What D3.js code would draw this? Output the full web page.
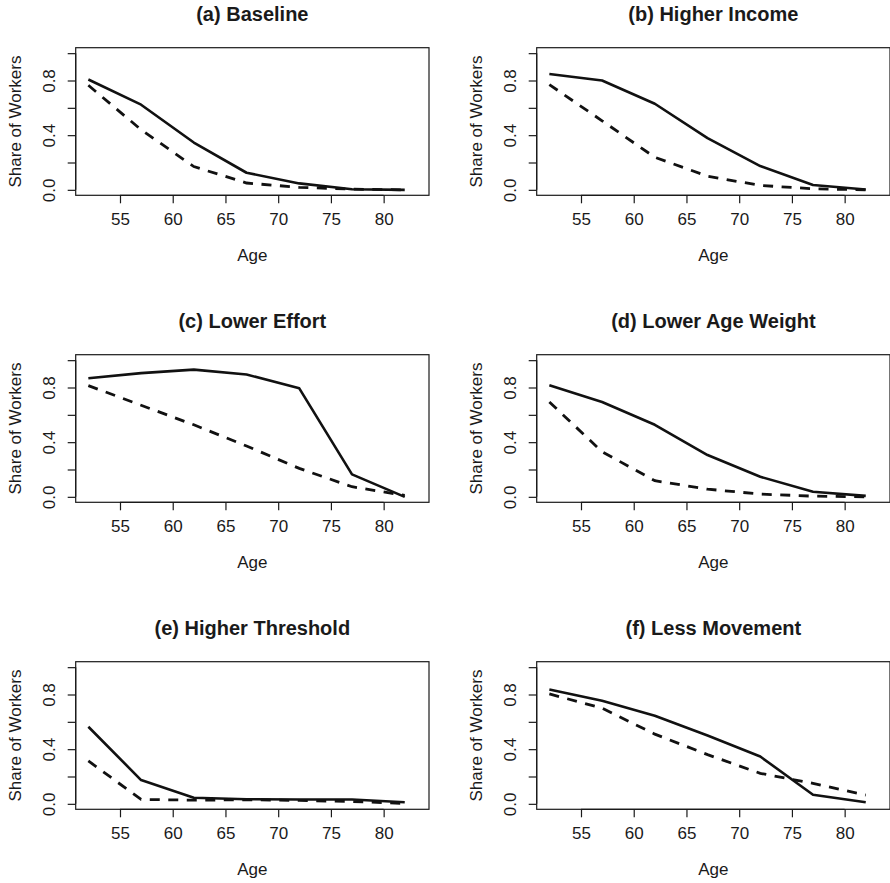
<!DOCTYPE html>
<html>
<head>
<meta charset="utf-8">
<script src="https://cdn.jsdelivr.net/npm/d3@7"></script>
<style>
html,body{margin:0;padding:0;background:#fff;}
svg{display:block;}
text{font-family:"Liberation Sans",Arial,Helvetica,sans-serif;fill:#1a1a1a;}
</style>
</head>
<body>
<svg id="chart" width="890" height="883"></svg>
<script>
const ages = [52, 57, 62, 67, 72, 77, 82];
const titles = ["(a) Baseline", "(b) Higher Income", "(c) Lower Effort",
                "(d) Lower Age Weight", "(e) Higher Threshold", "(f) Less Movement"];
const solidA  = [0.807, 0.623, 0.346, 0.125, 0.047, 0.004, 0.000];
const dashedA = [0.765, 0.440, 0.170, 0.050, 0.018, 0.005, 0.000];
const solidB  = [0.848, 0.800, 0.630, 0.378, 0.174, 0.035, 0.003];
const dashedB = [0.770, 0.505, 0.238, 0.100, 0.032, 0.008, 0.000];
const solidC  = [0.868, 0.905, 0.931, 0.895, 0.794, 0.164, 0.000];
const dashedC = [0.814, 0.670, 0.527, 0.372, 0.208, 0.074, 0.010];
const solidD  = [0.816, 0.694, 0.527, 0.306, 0.147, 0.037, 0.007];
const dashedD = [0.694, 0.330, 0.118, 0.056, 0.020, 0.005, 0.000];
const solidE  = [0.564, 0.174, 0.044, 0.034, 0.032, 0.032, 0.012];
const dashedE = [0.314, 0.032, 0.027, 0.030, 0.025, 0.017, 0.003];
const solidF  = [0.836, 0.755, 0.645, 0.500, 0.346, 0.066, 0.012];
const dashedF = [0.804, 0.700, 0.510, 0.360, 0.223, 0.150, 0.064];
const xTicks = [55, 60, 65, 70, 75, 80];
const yTicks = [0, 0.2, 0.4, 0.6, 0.8, 1.0];
const yTickLabels = ["0.0", "", "0.4", "", "0.8", ""];
const xLabel = "Age";
const yLabel = "Share of Workers";

const solids = [solidA, solidB, solidC, solidD, solidE, solidF];
const dashes = [dashedA, dashedB, dashedC, dashedD, dashedE, dashedF];

const svg = d3.select("#chart");
const colOff = [0, 461];
const rowOff = [0, 307, 614];
const box = {x0: 75.7, x1: 429, y0: 47.7, y1: 195.3};

const x = d3.scaleLinear().domain([50.8, 84.3]).range([box.x0, box.x1]);
const y = d3.scaleLinear().domain([-0.04, 1.04]).range([box.y1, box.y0]);
const line = d3.line().x(d => x(d[0])).y(d => y(d[1]));

titles.forEach((t, i) => {
  const g = svg.append("g")
    .attr("transform", `translate(${colOff[i % 2]},${rowOff[Math.floor(i / 2)]})`);

  // box
  g.append("rect")
    .attr("x", box.x0).attr("y", box.y0)
    .attr("width", box.x1 - box.x0).attr("height", box.y1 - box.y0)
    .attr("fill", "none").attr("stroke", "#1a1a1a").attr("stroke-width", 1.2);

  // x axis
  const xa = g.append("g").attr("transform", `translate(0,${box.y1})`)
    .call(d3.axisBottom(x).tickValues(xTicks).tickSize(8).tickPadding(10).tickSizeOuter(0));
  xa.select(".domain").attr("d", `M${x(xTicks[0])},0H${x(xTicks[xTicks.length - 1])}`)
    .attr("stroke", "#1a1a1a").attr("stroke-width", 1.2);
  xa.selectAll(".tick line").attr("stroke", "#1a1a1a").attr("stroke-width", 1.2);
  xa.selectAll(".tick text").attr("font-size", 17).attr("fill", "#1a1a1a")
    .attr("font-family", '"Liberation Sans",Arial,sans-serif');

  // y axis
  const ya = g.append("g").attr("transform", `translate(${box.x0},0)`)
    .call(d3.axisLeft(y).tickValues(yTicks).tickSize(8).tickSizeOuter(0)
      .tickFormat((d, k) => yTickLabels[k]));
  ya.select(".domain").attr("d", `M0,${y(1)}V${y(0)}`)
    .attr("stroke", "#1a1a1a").attr("stroke-width", 1.2);
  ya.selectAll(".tick line").attr("stroke", "#1a1a1a").attr("stroke-width", 1.2);
  ya.selectAll(".tick text")
    .attr("font-size", 17).attr("fill", "#1a1a1a")
    .attr("font-family", '"Liberation Sans",Arial,sans-serif')
    .attr("x", null).attr("dy", null)
    .attr("text-anchor", "middle")
    .attr("transform", "translate(-20.7,0) rotate(-90)");

  // lines
  g.append("path")
    .datum(ages.map((a, k) => [a, dashes[i][k]]))
    .attr("d", line).attr("fill", "none").attr("stroke", "#111")
    .attr("stroke-width", 2.8).attr("stroke-dasharray", "10,8.5");
  g.append("path")
    .datum(ages.map((a, k) => [a, solids[i][k]]))
    .attr("d", line).attr("fill", "none").attr("stroke", "#111")
    .attr("stroke-width", 2.6).attr("stroke-linejoin", "round");

  // title
  g.append("text").attr("x", (box.x0 + box.x1) / 2).attr("y", 21)
    .attr("text-anchor", "middle").attr("font-size", 20).attr("font-weight", "bold")
    .text(t);
  // x label
  g.append("text").attr("x", (box.x0 + box.x1) / 2).attr("y", 261)
    .attr("text-anchor", "middle").attr("font-size", 17).text(xLabel);
  // y label
  g.append("text")
    .attr("transform", `translate(20.5,${(box.y0 + box.y1) / 2}) rotate(-90)`)
    .attr("text-anchor", "middle").attr("font-size", 17).text(yLabel);
});
</script>
</body>
</html>
